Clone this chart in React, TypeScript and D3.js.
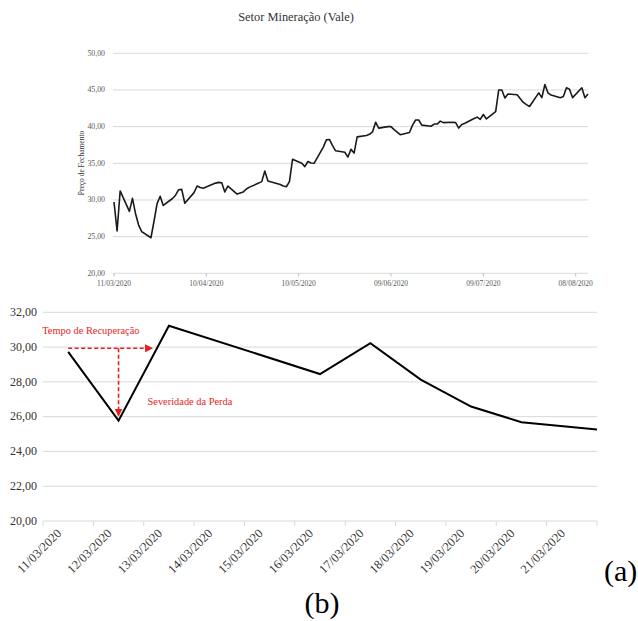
import React from "react";
import * as d3 from "d3";

// ---------- DATA ----------
const title = "Setor Mineração (Vale)";
const yTitle = "Preço de Fechamento";

const dates = [
  "2020-03-11","2020-03-12","2020-03-13","2020-03-16","2020-03-17","2020-03-18","2020-03-19","2020-03-20",
  "2020-03-23","2020-03-24","2020-03-25","2020-03-26","2020-03-27","2020-03-30","2020-03-31",
  "2020-04-01","2020-04-02","2020-04-03","2020-04-06","2020-04-07","2020-04-08","2020-04-09",
  "2020-04-13","2020-04-14","2020-04-15","2020-04-16","2020-04-17","2020-04-20","2020-04-22",
  "2020-04-23","2020-04-24","2020-04-27","2020-04-28","2020-04-29","2020-04-30",
  "2020-05-04","2020-05-05","2020-05-06","2020-05-07","2020-05-08","2020-05-11","2020-05-12",
  "2020-05-13","2020-05-14","2020-05-15","2020-05-18","2020-05-19","2020-05-20","2020-05-21",
  "2020-05-22","2020-05-25","2020-05-26","2020-05-27","2020-05-28","2020-05-29",
  "2020-06-01","2020-06-02","2020-06-03","2020-06-04","2020-06-05","2020-06-08","2020-06-09",
  "2020-06-10","2020-06-12","2020-06-15","2020-06-16","2020-06-17","2020-06-18","2020-06-19",
  "2020-06-22","2020-06-23","2020-06-24","2020-06-25","2020-06-26","2020-06-29","2020-06-30",
  "2020-07-01","2020-07-02","2020-07-03","2020-07-06","2020-07-07","2020-07-08","2020-07-09",
  "2020-07-10","2020-07-13","2020-07-14","2020-07-15","2020-07-16","2020-07-17","2020-07-20",
  "2020-07-21","2020-07-22","2020-07-23","2020-07-24","2020-07-27","2020-07-28","2020-07-29",
  "2020-07-30","2020-07-31","2020-08-03","2020-08-04","2020-08-05","2020-08-06","2020-08-07",
  "2020-08-10","2020-08-11","2020-08-12",
];
const closes = [
  29.72, 25.77, 31.23, 28.45, 30.22, 28.13, 26.58, 25.68,
  24.85, 27.1, 29.5, 30.5, 29.25, 30.2, 30.65,
  31.4, 31.45, 29.55, 31.0, 31.9, 31.7, 31.6,
  32.3, 32.4, 32.35, 31.1, 31.9, 30.8, 31.1,
  31.5, 31.75, 32.3, 32.5, 33.95, 32.6,
  32.1, 31.9, 31.8, 32.5, 35.55, 35.0, 34.55,
  35.25, 35.05, 35.0, 37.2, 38.2, 38.25, 37.4,
  36.7, 36.5, 35.85, 36.9, 36.4, 38.6,
  38.8, 38.95, 39.3, 40.6, 39.8, 40.0, 40.0,
  39.6, 38.9, 39.2, 40.2, 40.9, 40.9, 40.2,
  40.05, 40.35, 40.35, 40.75, 40.55, 40.6, 40.55,
  39.8, 40.3, 40.45, 41.1, 41.3, 41.0, 41.65,
  41.05, 42.05, 45.0, 45.0, 43.9, 44.45, 44.35,
  43.8, 43.3, 43.0, 42.75, 44.6, 43.95, 45.75,
  44.6, 44.3, 43.95, 44.1, 45.3, 45.1, 43.95,
  45.3, 43.95, 44.45,
];

const topYTicks = [20, 25, 30, 35, 40, 45, 50];
const topXTicks = ["2020-03-11", "2020-04-10", "2020-05-10", "2020-06-09", "2020-07-09", "2020-08-08"];
const topXDomain = ["2020-03-11", "2020-08-12"];

const zoomYTicks = [20, 22, 24, 26, 28, 30, 32];
const zoomCategories = [
  "2020-03-11","2020-03-12","2020-03-13","2020-03-14","2020-03-15","2020-03-16",
  "2020-03-17","2020-03-18","2020-03-19","2020-03-20","2020-03-21",
];
const zoomLastDate = "2020-03-23";

// annotation (data units)
const recoveryLevel = 29.93;
const recoveryStart = "2020-03-11";
const recoveryEndDays = 1.67; // days after start
const severityTipValue = 26.05;
const severityDate = "2020-03-12";

// ---------- HELPERS ----------
const parse = d3.timeParse("%Y-%m-%d");
const fmtDate = d3.timeFormat("%d/%m/%Y");
const fmtNum = (v: number) => v.toFixed(2).replace(".", ",");
const DAY = 24 * 3600 * 1000;
const SERIF = "'Liberation Serif', 'Times New Roman', Times, serif";

const series = dates.map((d, i) => ({ date: parse(d)!, value: closes[i] }));

export default function App() {
  // ----- top chart -----
  const xT = d3.scaleTime()
    .domain(topXDomain.map((d) => parse(d)!))
    .range([114, 588]);
  const yT = d3.scaleLinear().domain([20, 50]).range([273.3, 53.3]);
  const lineT = d3.line<{ date: Date; value: number }>()
    .x((d) => xT(d.date))
    .y((d) => yT(d.value));

  // ----- bottom chart -----
  const c0 = parse(zoomCategories[0])!;
  const cN = parse(zoomCategories[zoomCategories.length - 1])!;
  const xB = d3.scaleTime()
    .domain([new Date(+c0 - DAY / 2), new Date(+cN + DAY / 2)])
    .range([43, 597]);
  const yB = d3.scaleLinear().domain([20, 32]).range([521, 312.3]);
  const lastB = parse(zoomLastDate)!;
  const seriesB = series.filter((d) => d.date <= lastB);
  const lineB = d3.line<{ date: Date; value: number }>()
    .x((d) => xB(d.date))
    .y((d) => yB(d.value));
  const boundaries = d3.range(zoomCategories.length + 1).map((i) => new Date(+c0 - DAY / 2 + i * DAY));

  const red = "#e41e1e";
  const recX0 = xB(parse(recoveryStart)!);
  const recX1 = xB(new Date(+parse(recoveryStart)! + recoveryEndDays * DAY));
  const recY = yB(recoveryLevel);
  const sevX = xB(parse(severityDate)!);
  const sevY1 = yB(severityTipValue);

  return (
    <svg
      width={638}
      height={621}
      style={{ position: "absolute", left: 0, top: 0, background: "#fff" }}
      fontFamily={SERIF}
    >
      <defs>
        <clipPath id="clipB">
          <rect x={43} y={300} width={554} height={230} />
        </clipPath>
        <marker id="arrowRed" viewBox="0 0 10 10" refX="9" refY="5" markerWidth="5" markerHeight="5" orient="auto">
          <path d="M0,0 L10,5 L0,10 z" fill={red} />
        </marker>
      </defs>
      <rect width={638} height={621} fill="#fff" />

      {/* ===== TOP CHART ===== */}
      <text x={296} y={21} textAnchor="middle" fontSize={12.4} fill="#333">{title}</text>
      {topYTicks.map((t) => (
        <g key={"gt" + t}>
          <line x1={113} x2={588} y1={yT(t)} y2={yT(t)} stroke="#d9d9d9" strokeWidth={1} />
          <text x={105} y={yT(t)} dy="0.32em" textAnchor="end" fontSize={7.8} fill="#595959">{fmtNum(t)}</text>
        </g>
      ))}
      {topXTicks.map((t) => {
        const x = xT(parse(t)!);
        return (
          <g key={"xt" + t}>
            <line x1={x} x2={x} y1={273.3} y2={276.5} stroke="#bfbfbf" strokeWidth={1} />
            <text x={x} y={286} textAnchor="middle" fontSize={7.5} fill="#595959">{fmtDate(parse(t)!)}</text>
          </g>
        );
      })}
      <text
        transform={`translate(84,163) rotate(-90)`}
        textAnchor="middle"
        fontSize={7.5}
        fill="#333"
      >{yTitle}</text>
      <path d={lineT(series) || ""} fill="none" stroke="#1a1a1a" strokeWidth={1.6} strokeLinejoin="round" />

      {/* ===== BOTTOM CHART ===== */}
      {zoomYTicks.map((t) => (
        <g key={"gb" + t}>
          <line x1={43} x2={597} y1={yB(t)} y2={yB(t)} stroke="#d9d9d9" strokeWidth={1} />
          <text x={37} y={yB(t)} dy="0.32em" textAnchor="end" fontSize={12} fill="#333">{fmtNum(t)}</text>
        </g>
      ))}
      {boundaries.map((b, i) => (
        <line key={"tb" + i} x1={xB(b)} x2={xB(b)} y1={521} y2={526} stroke="#d9d9d9" strokeWidth={1} />
      ))}
      {zoomCategories.map((c) => {
        const x = xB(parse(c)!);
        return (
          <text
            key={"lb" + c}
            transform={`translate(${x - 6},${534}) rotate(-45)`}
            textAnchor="end"
            fontSize={12.5}
            fill="#333"
          >{fmtDate(parse(c)!)}</text>
        );
      })}
      <path
        d={lineB(seriesB) || ""}
        fill="none"
        stroke="#000"
        strokeWidth={2}
        strokeLinejoin="miter"
        clipPath="url(#clipB)"
      />

      {/* annotations */}
      <line x1={recX0} x2={recX1} y1={recY} y2={recY} stroke={red} strokeWidth={1.6} strokeDasharray="4,2.5" markerEnd="url(#arrowRed)" />
      <line x1={sevX} x2={sevX} y1={recY} y2={sevY1} stroke={red} strokeWidth={1.6} strokeDasharray="4,2.5" markerEnd="url(#arrowRed)" />
      <text x={xB(parse(recoveryStart)!) - 26} y={334} fontSize={10.4} fill={red}>Tempo de Recuperação</text>
      <text x={sevX + 29} y={405} fontSize={10.4} fill={red}>Severidade da Perda</text>

      {/* panel labels */}
      <text x={604} y={581} fontSize={30} fill="#000">(a)</text>
      <text x={322} y={613} fontSize={30} textAnchor="middle" fill="#000">(b)</text>
    </svg>
  );
}
